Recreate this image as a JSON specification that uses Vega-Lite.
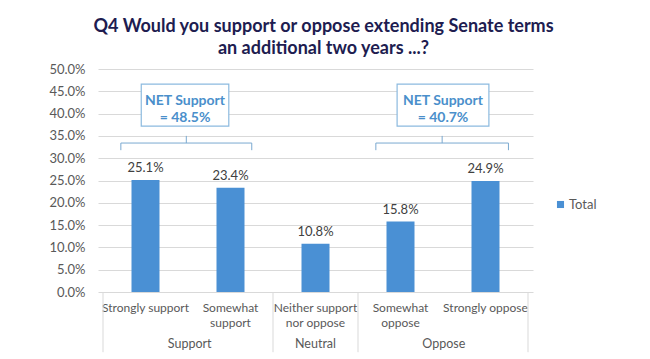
{
  "$schema": "https://vega.github.io/schema/vega-lite/v6.json",
  "width": 435,
  "height": 223,
  "autosize": "none",
  "padding": {"left": 98, "top": 69, "right": 117, "bottom": 67},
  "background": "white",
  "config": {
    "font": "Lato",
    "view": {"stroke": null}
  },
  "title": {
    "text": ["Q4 Would you support or oppose extending Senate terms", "an additional two years ...?"],
    "fontSize": 18,
    "fontWeight": "bold",
    "color": "#201c50",
    "lineHeight": 22,
    "anchor": "middle",
    "dx": 8,
    "offset": 5
  },
  "datasets": {
    "bars": [
      {"category": "Strongly support", "label": "Strongly support", "order": 1, "value": 0.251, "series": "Total"},
      {"category": "Somewhat support", "label": "Somewhat\nsupport", "order": 2, "value": 0.234, "series": "Total"},
      {"category": "Neither support nor oppose", "label": "Neither support\nnor oppose", "order": 3, "value": 0.108, "series": "Total"},
      {"category": "Somewhat oppose", "label": "Somewhat\noppose", "order": 4, "value": 0.158, "series": "Total"},
      {"category": "Strongly oppose", "label": "Strongly oppose", "order": 5, "value": 0.249, "series": "Total"}
    ],
    "groups": [
      {"group": "Support", "center": 1.52},
      {"group": "Neutral", "center": 3.0},
      {"group": "Oppose", "center": 4.51}
    ],
    "separators": [
      {"edge": 0.5}, {"edge": 2.5}, {"edge": 3.5}, {"edge": 5.5}
    ],
    "brackets": [
      {"x1": 0.71, "x2": 2.25, "y1": 0.334, "y2": 0.334},
      {"x1": 0.71, "x2": 0.71, "y1": 0.318, "y2": 0.334},
      {"x1": 2.25, "x2": 2.25, "y1": 0.318, "y2": 0.334},
      {"x1": 1.48, "x2": 1.48, "y1": 0.334, "y2": 0.350},
      {"x1": 3.71, "x2": 5.27, "y1": 0.334, "y2": 0.334},
      {"x1": 3.71, "x2": 3.71, "y1": 0.318, "y2": 0.334},
      {"x1": 5.27, "x2": 5.27, "y1": 0.318, "y2": 0.334},
      {"x1": 4.49, "x2": 4.49, "y1": 0.334, "y2": 0.350}
    ],
    "boxes": [
      {"x1": 0.95, "x2": 1.98, "y1": 0.372, "y2": 0.466, "cx": 1.465, "cy": 0.428, "text": "NET Support\n= 48.5%"},
      {"x1": 3.96, "x2": 5.04, "y1": 0.372, "y2": 0.466, "cx": 4.5, "cy": 0.428, "text": "NET Support\n= 40.7%"}
    ]
  },
  "layer": [
    {
      "data": {"name": "bars"},
      "mark": {"type": "bar", "size": 28},
      "encoding": {
        "x": {"field": "order", "type": "quantitative", "scale": {"domain": [0.5, 5.5], "nice": false, "zero": false}, "axis": null},
        "y": {"field": "value", "type": "quantitative", "scale": {"domain": [0, 0.5], "nice": false},
          "axis": {"values": [0, 0.05, 0.1, 0.15, 0.2, 0.25, 0.3, 0.35, 0.4, 0.45, 0.5], "tickCount": 20, "format": ".1%", "title": null, "domain": false, "ticks": false, "labelPadding": 13, "labelFontSize": 13, "labelColor": "#595959", "gridColor": "#d9d9d9", "labelFont": "Lato", "labelOverlap": false}},
        "color": {"field": "series", "type": "nominal", "scale": {"range": ["#4a90d4"]},
          "legend": {"title": null, "orient": "none", "legendX": 456, "legendY": 129, "symbolType": "square", "symbolSize": 50, "labelFontSize": 13, "labelColor": "#595959", "labelOffset": 2, "padding": 0, "labelFont": "Lato"}}
      }
    },
    {
      "data": {"name": "bars"},
      "mark": {"type": "text", "baseline": "bottom", "dy": -5, "fontSize": 13, "color": "#404040"},
      "encoding": {
        "x": {"field": "order", "type": "quantitative"},
        "y": {"field": "value", "type": "quantitative"},
        "text": {"field": "value", "type": "quantitative", "format": ".1%"}
      }
    },
    {
      "data": {"name": "bars"},
      "mark": {"type": "text", "baseline": "middle", "dy": 16, "fontSize": 12, "color": "#595959", "lineBreak": "\n", "lineHeight": 15},
      "encoding": {
        "x": {"field": "order", "type": "quantitative"},
        "y": {"datum": 0, "type": "quantitative"},
        "text": {"field": "label", "type": "nominal"}
      }
    },
    {
      "data": {"name": "groups"},
      "mark": {"type": "text", "baseline": "middle", "dy": 52, "fontSize": 12.5, "color": "#595959"},
      "encoding": {
        "x": {"field": "center", "type": "quantitative"},
        "y": {"datum": 0, "type": "quantitative"},
        "text": {"field": "group", "type": "nominal"}
      }
    },
    {
      "data": {"name": "separators"},
      "mark": {"type": "rule", "color": "#d9d9d9", "strokeWidth": 1},
      "encoding": {
        "x": {"field": "edge", "type": "quantitative"},
        "y": {"datum": 0, "type": "quantitative"},
        "y2": {"datum": -0.135}
      }
    },
    {
      "data": {"name": "brackets"},
      "mark": {"type": "rule", "color": "#7aa9d0", "strokeWidth": 1},
      "encoding": {
        "x": {"field": "x1", "type": "quantitative"},
        "x2": {"field": "x2"},
        "y": {"field": "y1", "type": "quantitative"},
        "y2": {"field": "y2"}
      }
    },
    {
      "data": {"name": "boxes"},
      "mark": {"type": "rect", "fill": "white", "stroke": "#8cbadf", "strokeWidth": 1.2},
      "encoding": {
        "x": {"field": "x1", "type": "quantitative"},
        "x2": {"field": "x2"},
        "y": {"field": "y1", "type": "quantitative"},
        "y2": {"field": "y2"}
      }
    },
    {
      "data": {"name": "boxes"},
      "mark": {"type": "text", "baseline": "middle", "fontSize": 14, "fontWeight": "bold", "color": "#4a8fcb", "lineBreak": "\n", "lineHeight": 17},
      "encoding": {
        "x": {"field": "cx", "type": "quantitative"},
        "y": {"field": "cy", "type": "quantitative"},
        "text": {"field": "text", "type": "nominal"}
      }
    }
  ]
}
